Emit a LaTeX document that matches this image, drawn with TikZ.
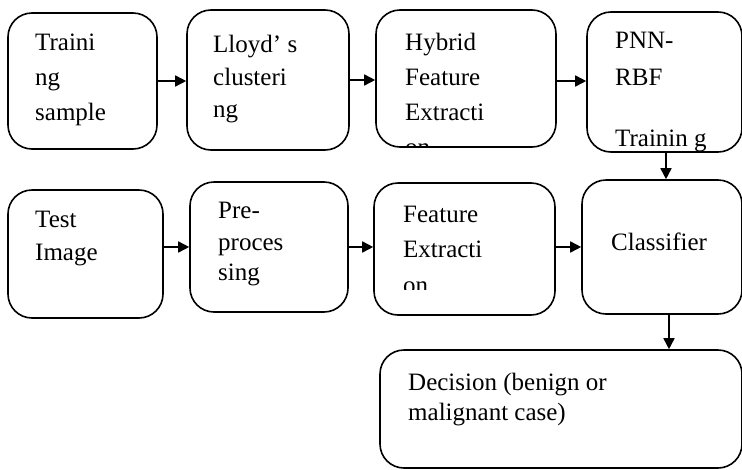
\documentclass[tikz,border=0pt]{standalone}
\usepackage{fontspec}
\setmainfont{Liberation Serif}
\usetikzlibrary{arrows.meta}
\begin{document}
\begin{tikzpicture}[x=1pt,y=-1pt,
  stage/.style={draw, line width=1.6pt, rounded corners=24pt, inner sep=0pt},
  lbl/.style={anchor=base west, inner sep=0pt, font=\fontsize{25}{30}\selectfont},
  flow/.style={line width=1.6pt, -{Triangle[length=11pt,width=11pt]}}]
\useasboundingbox (0,0) rectangle (742,469);

% ---- text of the stages (drawn first, boxes go over it) ----
\node[lbl] (t1a) at (35,50)  {Traini};
\node[lbl] (t1b) at (35,85)  {ng};
\node[lbl] (t1c) at (35,120) {sample};

\node[lbl] (t2a) at (213,52)  {Lloyd’ s};
\node[lbl] (t2b) at (213,85)  {clusteri};
\node[lbl] (t2c) at (213,117) {ng};

\node[lbl] (t3a) at (405,50)  {Hybrid};
\node[lbl] (t3b) at (405,85)  {Feature};
\node[lbl] (t3c) at (405,120) {Extracti};
\begin{scope}
  \clip (380,100) rectangle (550,147);
  \node[lbl] (t3d) at (405,155) {on};
\end{scope}

\begin{scope}
  \clip (590,15) rectangle (740,151);
  \node[lbl] (t4a) at (615,48)  {PNN-};
  \node[lbl] (t4b) at (615,85)  {RBF};
  \node[lbl] (t4c) at (615,146) {Trainin g};
\end{scope}

\node[lbl] (t5a) at (35,227) {Test};
\node[lbl] (t5b) at (35,260) {Image};

\node[lbl] (t6a) at (218,218) {Pre-};
\node[lbl] (t6b) at (218,250) {proces};
\node[lbl] (t6c) at (218,280) {sing};

\node[lbl] (t7a) at (403,222) {Feature};
\node[lbl] (t7b) at (403,257) {Extracti};
\begin{scope}
  \clip (380,260) rectangle (550,289);
  \node[lbl] (t7c) at (403,293) {on};
\end{scope}

\node[lbl] (t8a) at (611,250) {Classifier};

\node[lbl] (t9a) at (408,390) {Decision (benign or};
\node[lbl] (t9b) at (408,420) {malignant case)};

% ---- stage boxes ----
\node[stage, minimum width=149pt, minimum height=136pt] (train) at (82.5,81)  {};
\node[stage, minimum width=162pt, minimum height=140pt] (lloyd) at (268,80)   {};
\node[stage, minimum width=180pt, minimum height=137pt] (hyb)   at (466,78.5) {};
\node[stage, minimum width=155pt, minimum height=140pt] (pnn)   at (664.5,82) {};

\node[stage, minimum width=155pt, minimum height=128pt] (test)  at (85.5,254)  {};
\node[stage, minimum width=158pt, minimum height=130pt] (pre)   at (269,247)   {};
\node[stage, minimum width=181pt, minimum height=132pt] (fext)  at (464.5,249) {};
\node[stage, minimum width=160pt, minimum height=134pt] (cls)   at (662,247)   {};

\node[stage, minimum width=362pt, minimum height=118pt] (dec)   at (561,409)   {};

% ---- connectors ----
\draw[flow] (train.east) -- (train.east -| lloyd.west);
\draw[flow] (lloyd.east) -- (lloyd.east -| hyb.west);
\draw[flow] ([yshift=-2.5pt]hyb.east) -- ([yshift=-2.5pt]hyb.east -| pnn.west);
\draw[flow] ([xshift=1.5pt]pnn.south) -- ([xshift=1.5pt]pnn.south |- cls.north);

\draw[flow] (test.east |- pre.west) -- (pre.west);
\draw[flow] (pre.east) -- (pre.east -| fext.west);
\draw[flow] (fext.east |- cls.west) -- (cls.west);
\draw[flow] ([xshift=7pt]cls.south) -- ([xshift=7pt]cls.south |- dec.north);
\end{tikzpicture}
\end{document}
